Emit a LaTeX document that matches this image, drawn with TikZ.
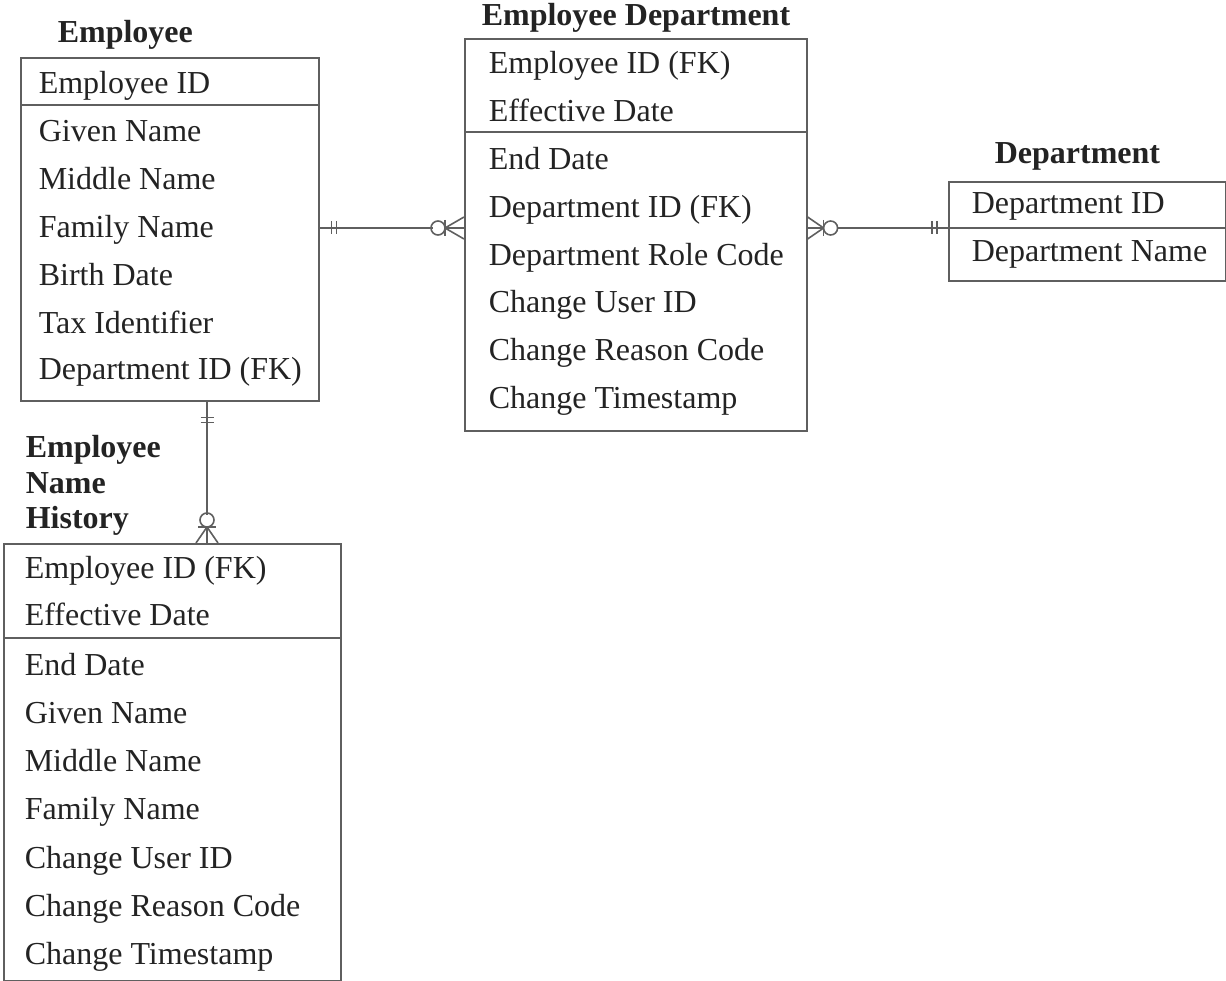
\documentclass[tikz,border=0pt]{standalone}
\usepackage{fontspec}
\setmainfont{Liberation Serif}
\definecolor{lineC}{RGB}{95,95,95}
\definecolor{txtC}{RGB}{35,35,35}
\begin{document}
\begin{tikzpicture}[x=1pt,y=-1pt,line width=1.6pt,
  box/.style={draw=lineC,anchor=north west,inner sep=0,minimum width=#1},
  row/.style={anchor=base west,inner sep=0,text=txtC,font=\fontsize{32}{38}\selectfont},
  ttl/.style={anchor=base west,inner sep=0,text=txtC,font=\fontsize{32}{38}\selectfont\bfseries},
  conn/.style={draw=lineC,line width=1.6pt}]
\useasboundingbox (0,0) rectangle (1226,981);
% Employee
\node[box=298,minimum height=343] (emp) at (20,57) {};
\draw[conn] (20,105) -- (318,105);
\node[ttl] (empT) at (57,43) {Employee};
\node[row] (e1) at (38,94) {Employee ID};
\node[row] (e2) at (38,142) {Given Name};
\node[row] (e3) at (38,190) {Middle Name};
\node[row] (e4) at (38,238) {Family Name};
\node[row] (e5) at (38,286) {Birth Date};
\node[row] (e6) at (38,334) {Tax Identifier};
\node[row] (e7) at (38,380) {Department ID (FK)};
% Employee Department
\node[box=342,minimum height=392] (ed) at (464,38) {};
\draw[conn] (464,132) -- (806,132);
\node[ttl] (edT) at (481,26) {Employee Department};
\node[row] (d1) at (488,74) {Employee ID (FK)};
\node[row] (d2) at (488,122) {Effective Date};
\node[row] (d3) at (488,170) {End Date};
\node[row] (d4) at (488,218) {Department ID (FK)};
\node[row] (d5) at (488,266) {Department Role Code};
\node[row] (d6) at (488,313) {Change User ID};
\node[row] (d7) at (488,361) {Change Reason Code};
\node[row] (d8) at (488,408) {Change Timestamp};
% Department
\node[box=277,minimum height=99] (dep) at (948,181) {};
\draw[conn] (948,228) -- (1225,228);
\node[ttl] (depT) at (994,164) {Department};
\node[row] (p1) at (971,214) {Department ID};
\node[row] (p2) at (971,262) {Department Name};
% Employee Name History
\node[box=337,minimum height=437] (h) at (3,543) {};
\draw[conn] (3,638) -- (340,638);
\node[ttl] (hT1) at (25,457) {Employee};
\node[ttl] (hT2) at (25,493) {Name};
\node[ttl] (hT3) at (25,528) {History};
\node[row] (h1) at (24,578) {Employee ID (FK)};
\node[row] (h2) at (24,625) {Effective Date};
\node[row] (h3) at (24,675) {End Date};
\node[row] (h4) at (24,723) {Given Name};
\node[row] (h5) at (24,771) {Middle Name};
\node[row] (h6) at (24,819) {Family Name};
\node[row] (h7) at (24,868) {Change User ID};
\node[row] (h8) at (24,916) {Change Reason Code};
\node[row] (h9) at (24,964) {Change Timestamp};
% connector Employee -> Employee Department
\coordinate (a1) at (emp.east |- 0,228);
\coordinate (a2) at (ed.west |- 0,228);
\draw[conn] (a1) -- ++(113,0);
\draw[conn] (a1) ++(12,-6.5) -- ++(0,13);
\draw[conn] (a1) ++(17,-6.5) -- ++(0,13);
\draw[conn] (a2) ++(-26,0) circle (7);
\draw[conn] (a2) ++(-19,0) -- (a2);
\draw[conn] (a2) ++(-19,0) -- ++(19,-11);
\draw[conn] (a2) ++(-19,0) -- ++(19,11);
\draw[conn] (a2) ++(-19,-8) -- ++(0,16);
% connector Employee Department -> Department
\coordinate (b1) at (ed.east |- 0,228);
\coordinate (b2) at (dep.west |- 0,228);
\draw[conn] (b1) ++(30,0) -- (b2);
\draw[conn] (b2) ++(-16,-6.5) -- ++(0,13);
\draw[conn] (b2) ++(-11,-6.5) -- ++(0,13);
\draw[conn] (b1) ++(23,0) circle (7);
\draw[conn] (b1) ++(16,0) -- (b1);
\draw[conn] (b1) ++(16,0) -- ++(-16,-11);
\draw[conn] (b1) ++(16,0) -- ++(-16,11);
\draw[conn] (b1) ++(16,-8) -- ++(0,16);
% connector Employee -> Employee Name History
\coordinate (c1) at (emp.south -| 207,0);
\coordinate (c2) at (h.north -| 207,0);
\draw[conn] (c1) -- ++(0,113);
\draw[conn] (c1) ++(-6.5,16) -- ++(13,0);
\draw[conn] (c1) ++(-6.5,21) -- ++(13,0);
\draw[conn] (c2) ++(0,-23) circle (7);
\draw[conn] (c2) ++(0,-16) -- (c2);
\draw[conn] (c2) ++(0,-16) -- ++(-11,16);
\draw[conn] (c2) ++(0,-16) -- ++(11,16);
\draw[conn] (c2) ++(-9,-16) -- ++(18,0);
\end{tikzpicture}
\end{document}
